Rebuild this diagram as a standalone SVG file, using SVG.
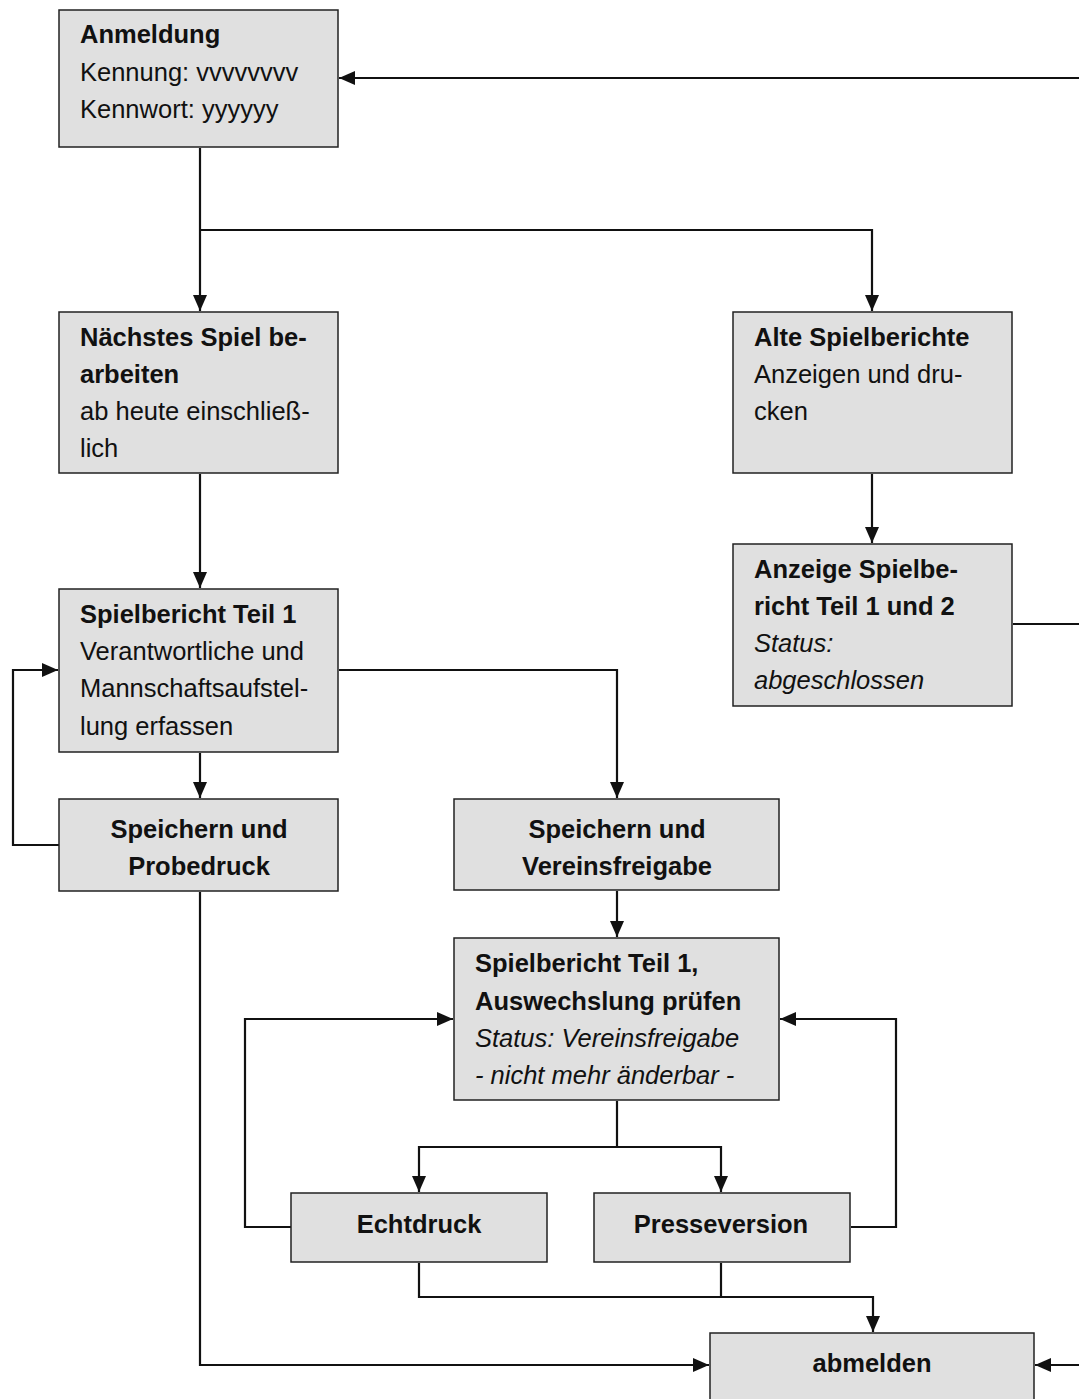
<svg xmlns="http://www.w3.org/2000/svg" width="1079" height="1399" viewBox="0 0 1079 1399">
<defs>
<style>
.box{fill:#e0e0e0;stroke:#222;stroke-width:1.5}
text{font-family:"Liberation Sans",Arial,sans-serif;font-size:25.5px;fill:#111}
.b{font-weight:bold}
.i{font-style:italic}
.c{text-anchor:middle}
.conn path{fill:none;stroke:#111;stroke-width:2.2}
</style>
<marker id="ah" markerUnits="userSpaceOnUse" markerWidth="17" markerHeight="16" refX="16" refY="8" orient="auto">
<path d="M0,1 L16,8 L0,15 z" fill="#111"/>
</marker>
</defs>
<rect width="1079" height="1399" fill="#fff"/>
<g class="conn">
<path d="M1079,78 H339" marker-end="url(#ah)"/>
<path d="M200,148 V311" marker-end="url(#ah)"/>
<path d="M200,230 H872 V311" marker-end="url(#ah)"/>
<path d="M200,474 V588" marker-end="url(#ah)"/>
<path d="M872,474 V543" marker-end="url(#ah)"/>
<path d="M1013,624 H1079"/>
<path d="M200,753 V798" marker-end="url(#ah)"/>
<path d="M59,845 H13 V670 H58" marker-end="url(#ah)"/>
<path d="M339,670 H617 V798" marker-end="url(#ah)"/>
<path d="M617,891 V937" marker-end="url(#ah)"/>
<path d="M617,1101 V1147 H419 V1192" marker-end="url(#ah)"/>
<path d="M617,1147 H721 V1192" marker-end="url(#ah)"/>
<path d="M291,1227 H245 V1019 H453" marker-end="url(#ah)"/>
<path d="M851,1227 H896 V1019 H780" marker-end="url(#ah)"/>
<path d="M419,1263 V1297 H873 V1332" marker-end="url(#ah)"/>
<path d="M721,1263 V1297"/>
<path d="M200,892 V1365 H709" marker-end="url(#ah)"/>
<path d="M1079,1365 H1035" marker-end="url(#ah)"/>
</g>
<g id="anmeldung">
<rect class="box" x="59" y="10" width="279" height="137"/>
<text x="80" y="43" class="b">Anmeldung</text>
<text x="80" y="81">Kennung: vvvvvvvv</text>
<text x="80" y="118">Kennwort: yyyyyy</text>
</g>
<g id="naechstes">
<rect class="box" x="59" y="312" width="279" height="161"/>
<text x="80" y="346" class="b">Nächstes Spiel be-</text>
<text x="80" y="383" class="b">arbeiten</text>
<text x="80" y="420">ab heute einschließ-</text>
<text x="80" y="457">lich</text>
</g>
<g id="alte">
<rect class="box" x="733" y="312" width="279" height="161"/>
<text x="754" y="346" class="b">Alte Spielberichte</text>
<text x="754" y="383">Anzeigen und dru-</text>
<text x="754" y="420">cken</text>
</g>
<g id="anzeige">
<rect class="box" x="733" y="544" width="279" height="162"/>
<text x="754" y="578" class="b">Anzeige Spielbe-</text>
<text x="754" y="615" class="b">richt Teil 1 und 2</text>
<text x="754" y="652" class="i">Status:</text>
<text x="754" y="689" class="i">abgeschlossen</text>
</g>
<g id="teil1">
<rect class="box" x="59" y="589" width="279" height="163"/>
<text x="80" y="623" class="b">Spielbericht Teil 1</text>
<text x="80" y="660">Verantwortliche und</text>
<text x="80" y="697">Mannschaftsaufstel-</text>
<text x="80" y="735">lung erfassen</text>
</g>
<g id="probedruck">
<rect class="box" x="59" y="799" width="279" height="92"/>
<text x="199" y="838" class="b c">Speichern und</text>
<text x="199" y="875" class="b c">Probedruck</text>
</g>
<g id="vereinsfreigabe">
<rect class="box" x="454" y="799" width="325" height="91"/>
<text x="617" y="838" class="b c">Speichern und</text>
<text x="617" y="875" class="b c">Vereinsfreigabe</text>
</g>
<g id="auswechslung">
<rect class="box" x="454" y="938" width="325" height="162"/>
<text x="475" y="972" class="b">Spielbericht Teil 1,</text>
<text x="475" y="1010" class="b">Auswechslung prüfen</text>
<text x="475" y="1047" class="i">Status: Vereinsfreigabe</text>
<text x="475" y="1084" class="i">- nicht mehr änderbar -</text>
</g>
<g id="echtdruck">
<rect class="box" x="291" y="1193" width="256" height="69"/>
<text x="419" y="1233" class="b c">Echtdruck</text>
</g>
<g id="presseversion">
<rect class="box" x="594" y="1193" width="256" height="69"/>
<text x="721" y="1233" class="b c">Presseversion</text>
</g>
<g id="abmelden">
<rect class="box" x="710" y="1333" width="324" height="80"/>
<text x="872" y="1372" class="b c">abmelden</text>
</g>
</svg>
